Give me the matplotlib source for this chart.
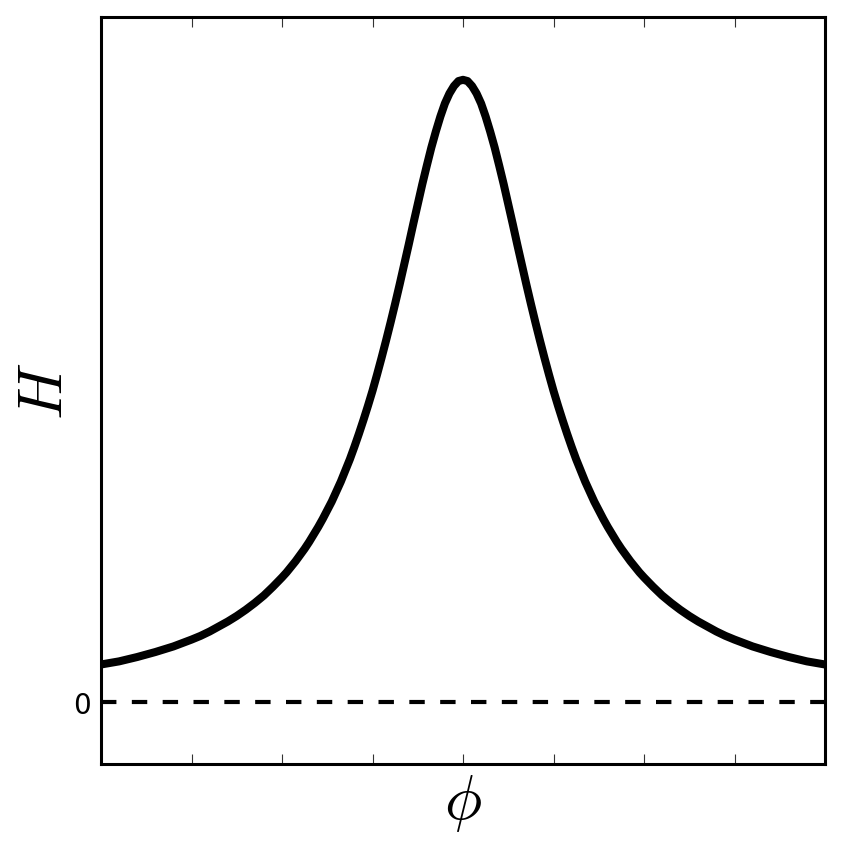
import matplotlib
matplotlib.use("Agg")
import matplotlib.pyplot as plt

plt.rcParams['mathtext.fontset'] = 'cm'

phi = [-4.0, -3.8, -3.6, -3.4, -3.2, -3.0, -2.9, -2.8, -2.7, -2.6, -2.5, -2.4, -2.3, -2.2, -2.1,
       -2.0, -1.95, -1.9, -1.85, -1.8, -1.75, -1.7, -1.65, -1.6, -1.55, -1.5, -1.45, -1.4, -1.35,
       -1.3, -1.25, -1.2, -1.15, -1.1, -1.05, -1.0, -0.95, -0.9, -0.85, -0.8, -0.75, -0.7, -0.65,
       -0.6, -0.55, -0.5, -0.45, -0.4, -0.35, -0.3, -0.25, -0.2, -0.15, -0.1, -0.05, 0.0,
       0.05, 0.1, 0.15, 0.2, 0.25, 0.3, 0.35, 0.4, 0.45, 0.5, 0.55, 0.6, 0.65, 0.7, 0.75, 0.8,
       0.85, 0.9, 0.95, 1.0, 1.05, 1.1, 1.15, 1.2, 1.25, 1.3, 1.35, 1.4, 1.45, 1.5, 1.55, 1.6,
       1.65, 1.7, 1.75, 1.8, 1.85, 1.9, 1.95, 2.0, 2.1, 2.2, 2.3, 2.4, 2.5, 2.6, 2.7, 2.8, 2.9,
       3.0, 3.2, 3.4, 3.6, 3.8, 4.0]
H = [0.060, 0.065, 0.072, 0.080, 0.089, 0.100, 0.106, 0.113, 0.121, 0.129, 0.138, 0.148, 0.159,
     0.171, 0.185, 0.200, 0.208, 0.217, 0.226, 0.236, 0.246, 0.257, 0.269, 0.281, 0.294, 0.308,
     0.322, 0.338, 0.354, 0.372, 0.390, 0.410, 0.431, 0.453, 0.476, 0.500, 0.526, 0.553, 0.581,
     0.610, 0.640, 0.671, 0.703, 0.735, 0.768, 0.800, 0.832, 0.862, 0.891, 0.917, 0.941, 0.962,
     0.978, 0.990, 0.998, 1.000,
     0.998, 0.990, 0.978, 0.962, 0.941, 0.917, 0.891, 0.862, 0.832, 0.800, 0.768, 0.735, 0.703,
     0.671, 0.640, 0.610, 0.581, 0.553, 0.526, 0.500, 0.476, 0.453, 0.431, 0.410, 0.390, 0.372,
     0.354, 0.338, 0.322, 0.308, 0.294, 0.281, 0.269, 0.257, 0.246, 0.236, 0.226, 0.217, 0.208,
     0.200, 0.185, 0.171, 0.159, 0.148, 0.138, 0.129, 0.121, 0.113, 0.106, 0.100, 0.089, 0.080,
     0.072, 0.065, 0.060]
zero_x = [-4.0, 4.0]
zero_y = [0.0, 0.0]
x_ticks = [-3, -2, -1, 0, 1, 2, 3]
y_ticks = [0]
y_ticklabels = ["0"]

fig = plt.figure(figsize=(8.44, 8.54), dpi=100)
ax = fig.add_axes([101/844, 1-765/854, 724/844, 747/854])

ax.plot(phi, H, color='black', lw=5.8, solid_capstyle='butt', solid_joinstyle='round')
ax.plot(zero_x, zero_y, color='black', lw=3.0, dashes=(3.7, 3.7))

ax.set_xlim(-4, 4)
ax.set_ylim(-0.1, 1.101)

ax.set_xticks(x_ticks)
ax.set_xticklabels([])
ax.tick_params(axis='x', which='both', direction='in', top=True, bottom=True,
               length=7, width=0.8, color='#333333')
ax.set_yticks(y_ticks)
ax.set_yticklabels(y_ticklabels, fontsize=20)
ax.tick_params(axis='y', length=0, pad=7)

for s in ax.spines.values():
    s.set_linewidth(2.2)

ax.set_xlabel(r'$\phi$', fontsize=45, labelpad=2)
ax.set_ylabel(r'$H$', fontsize=45, labelpad=-1)

fig.savefig('out.png', dpi=100)
